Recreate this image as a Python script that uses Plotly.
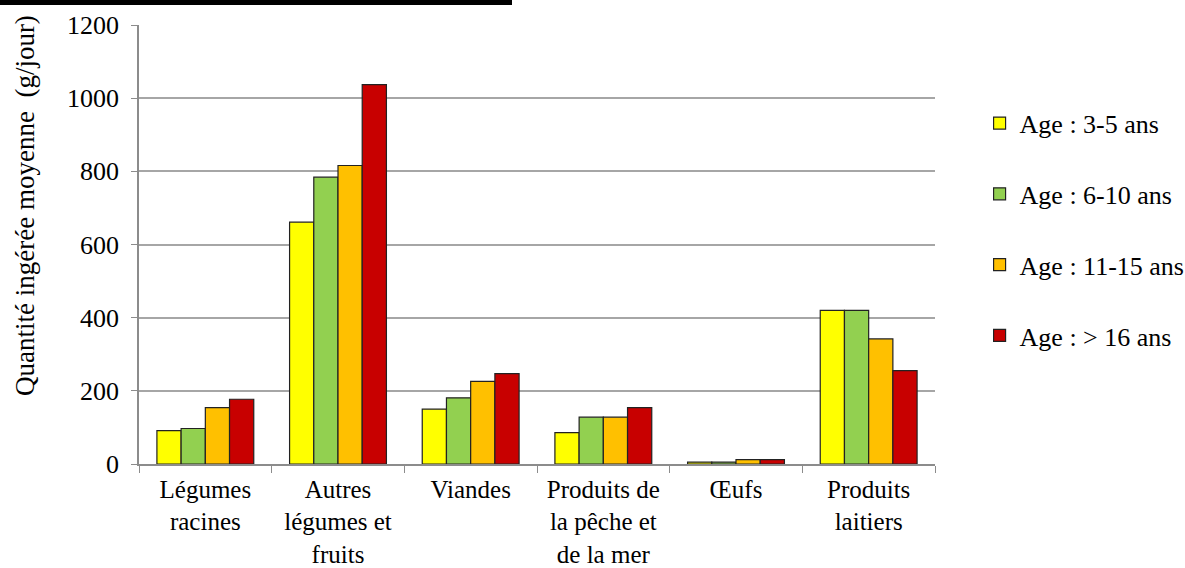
import plotly.graph_objects as go

categories = ["Légumes<br>racines", "Autres<br>légumes et<br>fruits", "Viandes",
              "Produits de<br>la pêche et<br>de la mer", "Œufs", "Produits<br>laitiers"]
series_names = ["Age : 3-5 ans", "Age : 6-10 ans", "Age : 11-15 ans", "Age : > 16 ans"]
age_3_5 = [91, 661, 150, 86, 5, 420]
age_6_10 = [97, 784, 181, 128, 5, 420]
age_11_15 = [154, 816, 226, 128, 12, 342]
age_16 = [177, 1037, 247, 154, 12, 255]
colors = ["#FFFF00", "#92D050", "#FFC000", "#C80000"]
y_ticks = [0, 200, 400, 600, 800, 1000, 1200]
y_title = "Quantité ingérée moyenne\u00a0 (g/jour)"

FONT = "'Liberation Serif', 'Times New Roman', serif"
FS = 26

fig = go.Figure()
for i, (name, vals) in enumerate(zip(series_names, [age_3_5, age_6_10, age_11_15, age_16])):
    fig.add_trace(go.Bar(
        x=categories, y=vals, name=name, legendgroup=name,
        marker=dict(color=colors[i], line=dict(color="#222222", width=1.2)),
    ))

fig.update_layout(
    width=1185, height=568,
    margin=dict(l=139, r=250, t=25, b=104, autoexpand=False),
    paper_bgcolor="white", plot_bgcolor="white",
    barmode="group", bargap=0.27, bargroupgap=0,
    font=dict(family=FONT, size=FS, color="#000000"),
    legend=dict(x=1.056, y=0.830, xanchor="left", yanchor="top",
                traceorder="grouped", tracegroupgap=34,
                font=dict(family=FONT, size=FS), itemwidth=30),
    xaxis=dict(showline=True, linecolor="#8c8c8c", linewidth=1.5, automargin=False,
               ticks="outside", tickson="boundaries", ticklen=7, tickcolor="#8c8c8c",
               ticklabelstandoff=2,
               tickfont=dict(family=FONT, size=25)),
    yaxis=dict(range=[0, 1200], tickvals=y_ticks, showgrid=True, gridcolor="#a6a6a6", gridwidth=1.5,
               showline=True, linecolor="#8c8c8c", linewidth=1.5, automargin=False,
               ticks="outside", ticklen=6, tickcolor="#8c8c8c",
               ticklabelstandoff=7,
               tickfont=dict(family=FONT, size=FS)),
    annotations=[dict(text=y_title, xref="paper", yref="paper",
                      x=(25 - 139) / 796, y=(464 - 206) / 439,
                      xanchor="center", yanchor="middle", textangle=-90,
                      showarrow=False, font=dict(family=FONT, size=27))],
    shapes=[dict(type="rect", xref="paper", yref="paper",
                 x0=-139/796, x1=(512-139)/796, y0=1+20/439, y1=1+26/439,
                 fillcolor="black", line=dict(width=0))],
)

fig.write_html("out.html", config={"displayModeBar": False},
               post_script="document.body.style.margin='0px';")
